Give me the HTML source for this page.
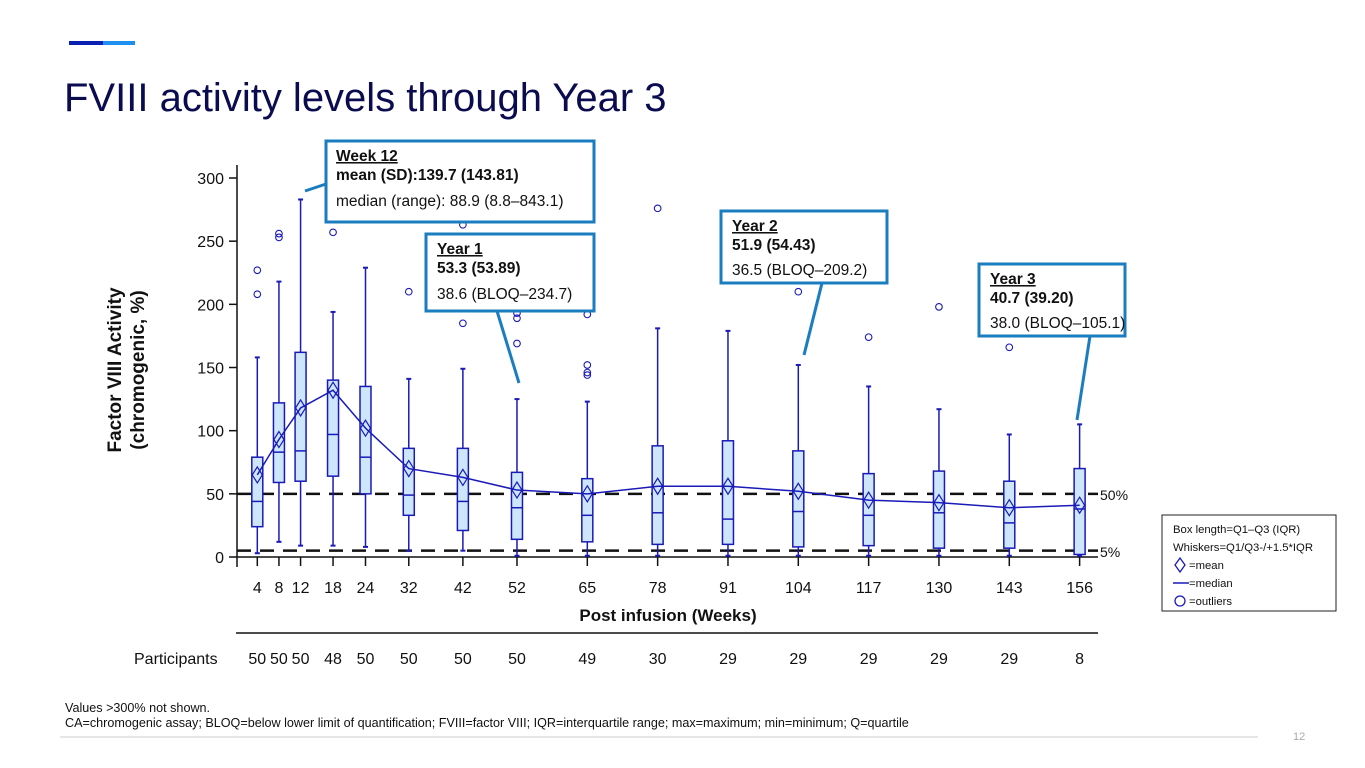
<!DOCTYPE html>
<html><head><meta charset="utf-8">
<style>
body{margin:0;background:#fff;}
#wrap{position:relative;width:1365px;height:768px;overflow:hidden;font-family:"Liberation Sans",Arial,sans-serif;}
svg{position:absolute;left:0;top:0;}
</style></head>
<body>
<div id="wrap">
<svg id="chart" width="1365" height="768" viewBox="0 0 1365 768" font-family="Liberation Sans, Arial, sans-serif">
  <rect x="69" y="41" width="34" height="4" fill="#0b1fb3"/>
  <rect x="103" y="41" width="32" height="4" fill="#1e90f0"/>
  <text x="64" y="111" font-size="40" fill="#0b0b4f">FVIII activity levels through Year 3</text>
  <g id="plot"></g>
  <text transform="translate(121,370) rotate(-90)" text-anchor="middle" font-size="19" font-weight="bold" fill="#111"><tspan x="0" dy="0">Factor VIII Activity</tspan><tspan x="0" dy="23">(chromogenic, %)</tspan></text>
  <text x="668" y="621" text-anchor="middle" font-size="17" font-weight="bold" fill="#111">Post infusion (Weeks)</text>
  <text x="134" y="664" font-size="16" fill="#111">Participants</text>
  <line x1="236" y1="633" x2="1098" y2="633" stroke="#111" stroke-width="1.5"/>
  <text x="1100" y="500" font-size="14" fill="#111">50%</text>
  <text x="1100" y="557" font-size="14" fill="#111">5%</text>

  <g>
    <rect x="1162" y="515" width="174" height="96" fill="#fff" stroke="#222" stroke-width="1"/>
    <text x="1173" y="533" font-size="11.3" fill="#111">Box length=Q1–Q3 (IQR)</text>
    <text x="1173" y="551" font-size="11.3" fill="#111">Whiskers=Q1/Q3-/+1.5*IQR</text>
    <path d="M1180,558 L1185,565 L1180,572 L1175,565 Z" fill="none" stroke="#1a1ab8" stroke-width="1.3"/>
    <text x="1189" y="569" font-size="11.3" fill="#111">=mean</text>
    <line x1="1173" y1="583" x2="1189" y2="583" stroke="#1a1ab8" stroke-width="1.5"/>
    <text x="1189" y="587" font-size="11.3" fill="#111">=median</text>
    <circle cx="1180" cy="601" r="5" fill="none" stroke="#1a1ab8" stroke-width="1.3"/>
    <text x="1189" y="605" font-size="11.3" fill="#111">=outliers</text>
  </g>

  <g>
    <line x1="305" y1="191" x2="326" y2="184" stroke="#1a7dc0" stroke-width="3"/>
    <rect x="326" y="141" width="268" height="81" fill="#fff" stroke="#1a7dc0" stroke-width="3"/>
    <text x="336" y="161" font-size="15.5" font-weight="bold" text-decoration="underline" fill="#111">Week 12</text>
    <text x="336" y="180" font-size="15.5" font-weight="bold" fill="#111">mean (SD):139.7 (143.81)</text>
    <text x="336" y="206" font-size="15.5" fill="#111">median (range): 88.9 (8.8–843.1)</text>
  </g>
  <g>
    <line x1="497" y1="311" x2="519" y2="383" stroke="#1a7dc0" stroke-width="3"/>
    <rect x="426" y="234" width="168" height="77" fill="#fff" stroke="#1a7dc0" stroke-width="3"/>
    <text x="437" y="254" font-size="15.5" font-weight="bold" text-decoration="underline" fill="#111">Year 1</text>
    <text x="437" y="273" font-size="15.5" font-weight="bold" fill="#111">53.3 (53.89)</text>
    <text x="437" y="299" font-size="15.5" fill="#111">38.6 (BLOQ–234.7)</text>
  </g>
  <g>
    <line x1="822" y1="283" x2="804" y2="355" stroke="#1a7dc0" stroke-width="3"/>
    <rect x="721" y="211" width="166" height="72" fill="#fff" stroke="#1a7dc0" stroke-width="3"/>
    <text x="732" y="231" font-size="15.5" font-weight="bold" text-decoration="underline" fill="#111">Year 2</text>
    <text x="732" y="250" font-size="15.5" font-weight="bold" fill="#111">51.9 (54.43)</text>
    <text x="732" y="275" font-size="15.5" fill="#111">36.5 (BLOQ–209.2)</text>
  </g>
  <g>
    <line x1="1090" y1="336" x2="1077" y2="420" stroke="#1a7dc0" stroke-width="3"/>
    <rect x="979" y="264" width="146" height="72" fill="#fff" stroke="#1a7dc0" stroke-width="3"/>
    <text x="990" y="284" font-size="15.5" font-weight="bold" text-decoration="underline" fill="#111">Year 3</text>
    <text x="990" y="303" font-size="15.5" font-weight="bold" fill="#111">40.7 (39.20)</text>
    <text x="990" y="328" font-size="15.5" fill="#111">38.0 (BLOQ–105.1)</text>
  </g>

  <text x="65" y="712" font-size="12.6" fill="#111">Values &gt;300% not shown.</text>
  <text x="65" y="727" font-size="12.6" fill="#111">CA=chromogenic assay; BLOQ=below lower limit of quantification; FVIII=factor VIII; IQR=interquartile range; max=maximum; min=minimum; Q=quartile</text>
  <line x1="60" y1="737" x2="1258" y2="737" stroke="#ccc" stroke-width="1"/>
  <text x="1293" y="740" font-size="11" fill="#aaa">12</text>
</svg>
</div>
<script>
const weeks = [4,8,12,18,24,32,42,52,65,78,91,104,117,130,143,156];
const whiskerHigh = [158,218,283,194,229,141,149,125,123,181,179,152,135,117,97,105];
const q3 = [79,122,162,140,135,86,86,67,62,88,92,84,66,68,60,70];
const medians = [44,83,84,97,79,49,44,39,33,35,30,36,33,35,27,38];
const q1 = [24,59,60,64,50,33,21,14,12,10,10,8,9,7,7,2];
const whiskerLow = [3,12,9,9,8,5,5,1,1,1,1,1,1,1,1,1];
const means = [65,93,118,132,102,70,63,53,50,56,56,52,45,43,39,41];
const outliers = [[227,208],[256,253],[],[257],[],[210],[263,185],[193,189,169],[192,152,146,144],[276],[],[210],[174],[198],[166],[]];
const participants = [50,50,50,48,50,50,50,50,49,30,29,29,29,29,29,8];
const yTicks = [0,50,100,150,200,250,300];
const refLines = [50,5];

const NS = 'http://www.w3.org/2000/svg';
const plot = document.getElementById('plot');
function X(w){ return 257.3 + (w-4)*5.41; }
function Y(v){ return 557 - v*1.2633; }
function mk(tag, attrs, parent){
  const e = document.createElementNS(NS, tag);
  for (const k in attrs) e.setAttribute(k, attrs[k]);
  (parent||plot).appendChild(e);
  return e;
}
const blue = '#1a1ab8';
let ax = mk('line',{x1:237,y1:165,x2:237,y2:567,stroke:'#111','stroke-width':1.5});


let bx = mk('line',{x1:237,y1:557,x2:1098,y2:557,stroke:'#111','stroke-width':1.5});


yTicks.forEach(t=>{
  mk('line',{x1:229,y1:Y(t),x2:237,y2:Y(t),stroke:'#111','stroke-width':1.5});
  const tx = mk('text',{x:224,y:Y(t)+6,'text-anchor':'end','font-size':16,fill:'#111'});
  tx.textContent = t;
  
  
});
weeks.forEach((w,i)=>{
  mk('line',{x1:X(w),y1:557,x2:X(w),y2:566,stroke:'#111','stroke-width':1.5});
  const tx = mk('text',{x:X(w),y:593,'text-anchor':'middle','font-size':16,fill:'#111'});
  tx.textContent = w;
  
  
  const pt = mk('text',{x:X(w),y:664,'text-anchor':'middle','font-size':16,fill:'#111'});
  pt.textContent = participants[i];
  
  
});
refLines.forEach(r=>{
  const l = mk('line',{x1:237,y1:Y(r),x2:1098,y2:Y(r),stroke:'#111','stroke-width':2.5,'stroke-dasharray':'14 9'});
  
  
});
const hw = 5.5;
weeks.forEach((w,i)=>{
  const g = mk('g',{});
  
  
  const x = X(w);
  mk('line',{x1:x,y1:Y(whiskerHigh[i]),x2:x,y2:Y(whiskerLow[i]),stroke:blue,'stroke-width':1.5},g);
  mk('line',{x1:x-2.5,y1:Y(whiskerHigh[i]),x2:x+2.5,y2:Y(whiskerHigh[i]),stroke:blue,'stroke-width':2},g);
  mk('line',{x1:x-2.5,y1:Y(whiskerLow[i]),x2:x+2.5,y2:Y(whiskerLow[i]),stroke:blue,'stroke-width':2},g);
  mk('rect',{x:x-hw,y:Y(q3[i]),width:hw*2,height:Y(q1[i])-Y(q3[i]),fill:'#cde6fb',stroke:blue,'stroke-width':1.5},g);
  mk('line',{x1:x-hw,y1:Y(medians[i]),x2:x+hw,y2:Y(medians[i]),stroke:blue,'stroke-width':1.5},g);
  const my = Y(means[i]);
  mk('path',{d:`M${x},${my-8} L${x+5},${my} L${x},${my+8} L${x-5},${my} Z`,fill:'none',stroke:blue,'stroke-width':1.2},g);
  outliers[i].forEach(o=>{
    mk('circle',{cx:x,cy:Y(o),r:3.3,fill:'none',stroke:blue,'stroke-width':1.1},g);
  });
});
const d = weeks.map((w,i)=>(i?'L':'M')+X(w)+','+Y(means[i])).join(' ');
const ml = mk('path',{d:d,fill:'none',stroke:blue,'stroke-width':1.5});


</script>
</body></html>
